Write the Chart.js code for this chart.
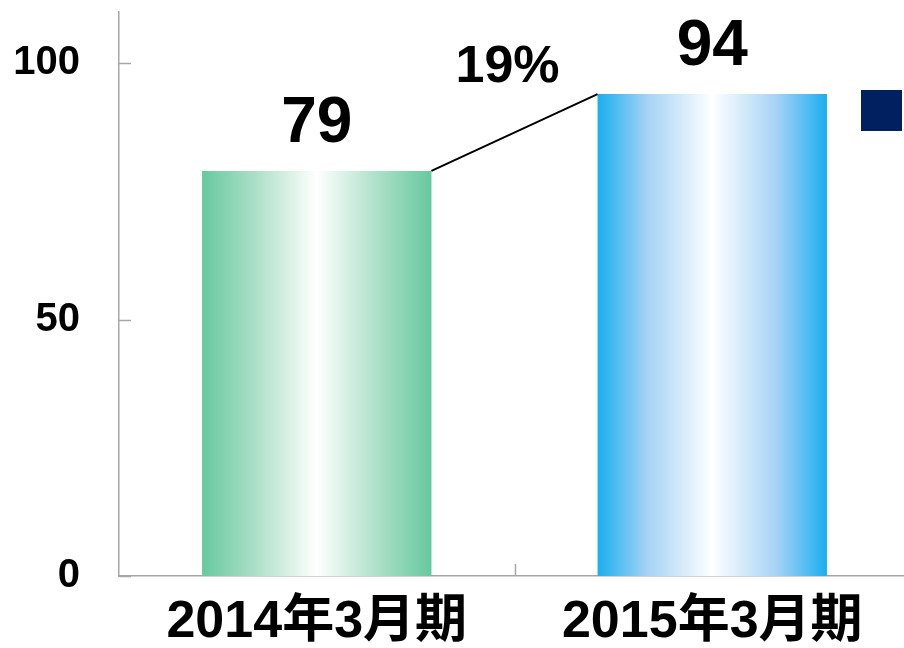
<!DOCTYPE html>
<html>
<head>
<meta charset="utf-8">
<script src="https://cdn.jsdelivr.net/npm/chart.js@4.4.0/dist/chart.umd.min.js"></script>
<style>
  html, body { margin: 0; padding: 0; background: #fff; overflow: hidden; }
  #wrap { width: 904px; height: 648px; overflow: hidden; }
</style>
</head>
<body>
<div id="wrap"><canvas id="salesChart" width="920" height="648"></canvas></div>
<script>
// Data
const periods = ['2014年3月期', '2015年3月期'];
const sales = [79, 94];
const yTicks = [0, 50, 100];
const yMax = 110;
const barColors = ['#66C99E', '#1BAEEF'];
const midColors = ['#A8DEC5', '#A6D3F5'];
const legendColor = '#002060';

const FONT = '"Liberation Sans", "Noto Sans CJK JP", Arial, sans-serif';
const AXIS_COLOR = '#A6A6A6';

// Horizontal fade: solid edges, white in the middle
function barFill(context) {
    const chart = context.chart;
    const i = context.dataIndex;
    const xScale = chart.scales.x;
    const area = chart.chartArea;
    if (!xScale || !area || i === undefined) return barColors[i || 0];
    const cx = xScale.getPixelForValue(i);
    const half = (area.width / periods.length) * 0.58 / 2;
    if (!isFinite(cx) || !isFinite(half)) return barColors[i];
    const g = chart.ctx.createLinearGradient(cx - half, 0, cx + half, 0);
    g.addColorStop(0, barColors[i]);
    g.addColorStop(0.22, midColors[i]);
    g.addColorStop(0.5, '#FFFFFF');
    g.addColorStop(0.78, midColors[i]);
    g.addColorStop(1, barColors[i]);
    return g;
}

// Value labels, growth connector, inward ticks and legend key
const annotate = {
    id: 'annotate',
    afterDatasetsDraw(chart) {
        const ctx = chart.ctx;
        const area = chart.chartArea;
        const xs = chart.scales.x;
        const ys = chart.scales.y;
        const bars = chart.getDatasetMeta(0).data;

        ctx.save();

        // tick marks pointing into the plot
        ctx.strokeStyle = AXIS_COLOR;
        ctx.lineWidth = 1.5;
        yTicks.forEach(v => {
            const y = Math.round(ys.getPixelForValue(v)) + 0.5;
            ctx.beginPath();
            ctx.moveTo(area.left, y);
            ctx.lineTo(area.left + 12, y);
            ctx.stroke();
        });
        for (let i = 1; i < periods.length; i++) {
            const x = Math.round((xs.getPixelForValue(i - 1) + xs.getPixelForValue(i)) / 2) + 0.5;
            ctx.beginPath();
            ctx.moveTo(x, area.bottom);
            ctx.lineTo(x, area.bottom - 12);
            ctx.stroke();
        }

        // values above bars
        ctx.fillStyle = '#000';
        ctx.textAlign = 'center';
        ctx.textBaseline = 'alphabetic';
        ctx.font = 'bold 64px ' + FONT;
        bars.forEach((bar, i) => {
            ctx.fillText(String(sales[i]), bar.x, bar.y - 29);
        });

        // connector between bar tops with growth rate
        const a = bars[0], b = bars[1];
        const x1 = a.x + a.width / 2, y1 = a.y;
        const x2 = b.x - b.width / 2, y2 = b.y;
        ctx.strokeStyle = '#000';
        ctx.lineWidth = 2;
        ctx.beginPath();
        ctx.moveTo(x1, y1);
        ctx.lineTo(x2, y2);
        ctx.stroke();

        const growth = Math.round((sales[1] - sales[0]) / sales[0] * 100);
        ctx.font = 'bold 52px ' + FONT;
        ctx.fillText(growth + '%', (x1 + x2) / 2 - 7, (y1 + y2) / 2 - 50);

        // legend key
        ctx.fillStyle = legendColor;
        ctx.fillRect(area.right - 49, area.top + 78, 41, 41);

        ctx.restore();
    }
};

const ctx = document.getElementById('salesChart');

new Chart(ctx, {
    type: 'bar',
    data: {
        labels: periods,
        datasets: [{
            data: sales,
            backgroundColor: barFill,
            borderWidth: 0,
            barPercentage: 0.58,
            categoryPercentage: 1
        }]
    },
    options: {
        responsive: false,
        animation: false,
        layout: { padding: { top: 12, right: 10, left: 0, bottom: 0 } },
        plugins: {
            legend: { display: false },
            tooltip: { enabled: false }
        },
        scales: {
            x: {
                grid: { display: false, drawTicks: false },
                border: { display: true, color: AXIS_COLOR, width: 1.5 },
                ticks: {
                    color: '#000',
                    padding: 15,
                    maxRotation: 0,
                    font: { family: FONT, size: 52, weight: 'bold' }
                },
                afterFit: s => {
                    s.height = 72;
                    s.paddingLeft = 0;
                    s.paddingRight = 0;
                }
            },
            y: {
                min: 0,
                max: yMax,
                afterBuildTicks: s => { s.ticks = yTicks.map(v => ({ value: v })); },
                grid: { display: false, drawTicks: false },
                border: { display: true, color: AXIS_COLOR, width: 1.5 },
                ticks: {
                    color: '#000',
                    padding: 39,
                    font: { family: FONT, size: 40, weight: 'bold' }
                },
                afterFit: s => {
                    s.width = 119;
                    s.paddingTop = 0;
                    s.paddingBottom = 0;
                }
            }
        }
    },
    plugins: [annotate]
});
</script>
</body>
</html>
